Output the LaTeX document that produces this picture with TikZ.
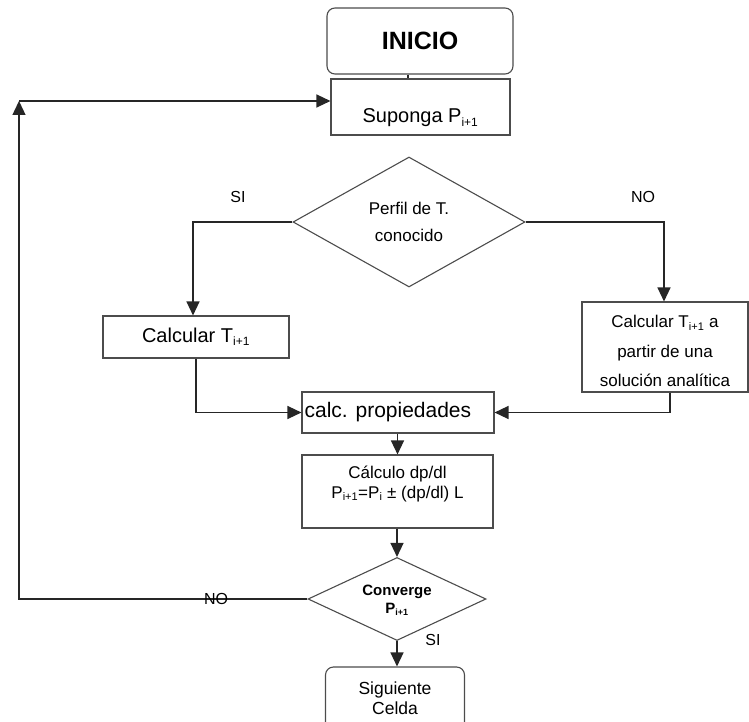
\documentclass[tikz,border=0pt]{standalone}
\usepackage{fontspec}
\setmainfont{Liberation Sans}
\usetikzlibrary{arrows.meta,shapes.geometric}
\begin{document}
\begin{tikzpicture}[x=1pt,y=-1pt,
  box/.style={draw=black!70,line width=1.1pt,rectangle,inner sep=0pt},
  rbox/.style={box,rounded corners=8pt},
  decision/.style={draw=black!70,line width=1.1pt,diamond,inner sep=0pt},
  flow/.style={draw=black!85,line width=1.3pt,-{Triangle[length=14pt,width=13pt]}},
  plain/.style={draw=black!85,line width=1.3pt},
  txt/.style={inner sep=0pt,align=center},
  lbl/.style={inner sep=0pt,font=\fontsize{16}{18}\selectfont}]
\useasboundingbox (0,0) rectangle (749,722);
\clip (0,0) rectangle (749,722);

% boxes
\node[rbox,minimum width=186pt,minimum height=66pt] (inicio) at (420,41)
  {\fontsize{25}{28}\selectfont\bfseries INICIO};
\node[box,minimum width=179pt,minimum height=56pt] (suponga) at (420.5,107) {};
\node[txt] at ([yshift=-11pt]suponga.center)
  {\fontsize{20}{22}\selectfont Suponga P\textsubscript{\fontsize{12}{14}\selectfont i+1}};

\node[decision,minimum width=232pt,minimum height=130pt] (perfil) at (409,222) {};
\node[txt,font=\fontsize{17}{27}\selectfont] at (409,222)
  {Perfil de T.\\conocido};

\node[box,minimum width=186pt,minimum height=42pt,font=\fontsize{20}{22}\selectfont]
  (calct) at (196,337) {Calcular T\textsubscript{\fontsize{12}{14}\selectfont i+1}};

\node[box,minimum width=166pt,minimum height=90pt] (anal) at (665,347) {};
\node[txt,font=\fontsize{17}{29.5}\selectfont] at ([yshift=-4pt]anal.center)
  {Calcular T\textsubscript{\fontsize{11}{13}\selectfont i+1} a\\partir de una\\soluci\'on anal\'itica};

\node[box,minimum width=192pt,minimum height=41pt] (props) at (398,412.5) {};
\node[inner sep=0pt,anchor=west,font=\fontsize{21}{24}\selectfont]
  at ([xshift=3pt]props.west) {calc. propiedades};

\node[box,minimum width=191pt,minimum height=73pt] (calc) at (397.5,491.5) {};
\node[txt,font=\fontsize{17}{20}\selectfont,anchor=north]
  at ([yshift=-11pt]calc.north)
  {C\'alculo dp/dl\\P\textsubscript{\fontsize{11}{13}\selectfont i+1}=P\textsubscript{\fontsize{11}{13}\selectfont i} ± (dp/dl) L};

\node[decision,minimum width=178pt,minimum height=83pt] (conv) at (397,599) {};
\node[txt,font=\fontsize{15}{18}\selectfont\bfseries] at (397,600)
  {Converge\\P\textsubscript{\fontsize{9}{11}\selectfont i+1}};

\node[rbox,minimum width=139pt,minimum height=70pt] (sig) at (395,702) {};
\node[txt,font=\fontsize{17.5}{20}\selectfont] at (395,698)
  {Siguiente\\Celda};

% connectors
\draw[plain] ([xshift=-12pt]inicio.south) -- ([xshift=-12.5pt]suponga.north);
\draw[flow] (perfil.west) -| ([xshift=-3pt]calct.north);
\draw[flow] (perfil.east) -| ([xshift=-1pt]anal.north);
\draw[flow] (calct.south) |- (props.west);
\draw[flow] ([xshift=5pt]anal.south) |- (props.east);
\draw[flow] ([xshift=-0.5pt]props.south) -- (calc.north);
\draw[flow] ([xshift=-0.5pt]calc.south) -- (conv.north);
\draw[flow] (conv.south) -- (conv.south |- sig.north);

% return loop
\coordinate (looptop) at (19,101);
\coordinate (loopbot) at (19,599);
\draw[flow] (conv.west) -- (loopbot) -- (looptop);
\draw[flow] (looptop) -- (looptop -| suponga.west);

% branch labels
\node[lbl] at (238,197) {SI};
\node[lbl] at (643,197) {NO};
\node[lbl] at (216,599) {NO};
\node[lbl] at (433,640) {SI};
\end{tikzpicture}
\end{document}
